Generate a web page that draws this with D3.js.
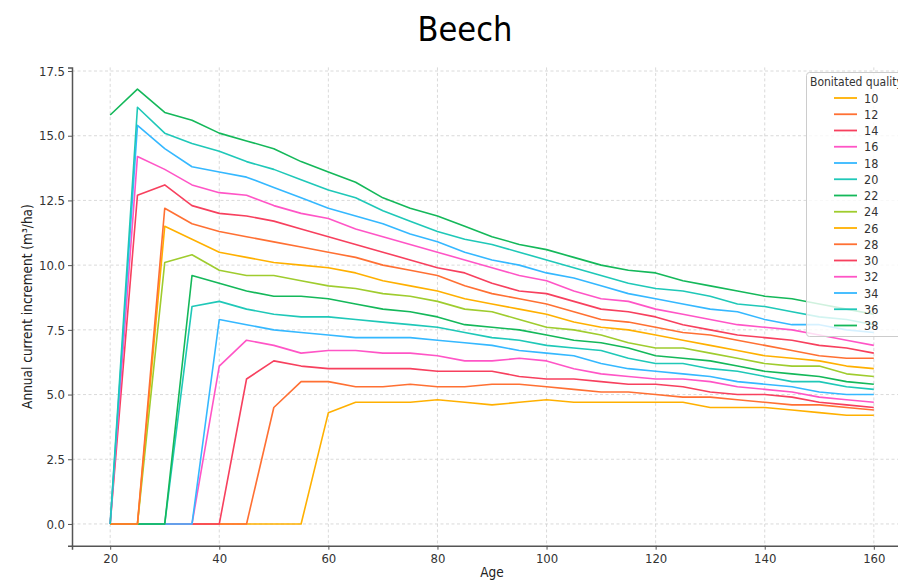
<!DOCTYPE html>
<html>
<head>
<meta charset="utf-8">
<script src="https://cdn.jsdelivr.net/npm/d3@7"></script>
<style>
  html, body { margin: 0; padding: 0; background: #fff; }
  svg text { font-family: 'DejaVu Sans Condensed', 'DejaVu Sans', sans-serif; font-stretch: condensed; }
</style>
</head>
<body>
<svg id="chart" width="898" height="580"></svg>
<script>
const ages = [20,25,30,35,40,45,50,55,60,65,70,75,80,85,90,95,100,105,110,115,120,125,130,135,140,145,150,155,160];
const qualities = [10,12,14,16,18,20,22,24,26,28,30,32,34,36,38];
const s10 = [0,0,0,0,0,0,0,0,4.3,4.7,4.7,4.7,4.8,4.7,4.6,4.7,4.8,4.7,4.7,4.7,4.7,4.7,4.5,4.5,4.5,4.4,4.3,4.2,4.2];
const s12 = [0,0,0,0,0,0,4.5,5.5,5.5,5.3,5.3,5.4,5.3,5.3,5.4,5.4,5.3,5.2,5.1,5.1,5.0,4.9,4.9,4.8,4.7,4.6,4.6,4.5,4.4];
const s14 = [0,0,0,0,0,5.6,6.3,6.1,6.0,6.0,6.0,6.0,5.9,5.9,5.9,5.7,5.6,5.6,5.5,5.4,5.4,5.3,5.1,5.0,5.0,4.9,4.7,4.6,4.5];
const s16 = [0,0,0,0,6.1,7.1,6.9,6.6,6.7,6.7,6.6,6.6,6.5,6.3,6.3,6.4,6.3,6.0,5.8,5.7,5.6,5.6,5.5,5.3,5.2,5.1,4.9,4.8,4.7];
const s18 = [0,0,0,0,7.9,7.7,7.5,7.4,7.3,7.2,7.2,7.2,7.1,7.0,6.9,6.7,6.6,6.5,6.2,6.0,5.9,5.8,5.7,5.5,5.4,5.3,5.1,5.0,5.0];
const s20 = [0,0,0,8.4,8.6,8.3,8.1,8.0,8.0,7.9,7.8,7.7,7.6,7.4,7.2,7.1,6.9,6.8,6.7,6.4,6.2,6.2,6.0,5.9,5.7,5.5,5.5,5.3,5.2];
const s22 = [0,0,0,9.6,9.3,9.0,8.8,8.8,8.7,8.5,8.3,8.2,8.0,7.7,7.6,7.5,7.3,7.1,7.0,6.8,6.5,6.4,6.3,6.1,5.9,5.8,5.7,5.5,5.4];
const s24 = [0,0,10.1,10.4,9.8,9.6,9.6,9.4,9.2,9.1,8.9,8.8,8.6,8.3,8.2,7.9,7.6,7.5,7.3,7.0,6.8,6.8,6.6,6.4,6.2,6.1,6.1,5.8,5.7];
const s26 = [0,0,11.5,11.0,10.5,10.3,10.1,10.0,9.9,9.7,9.4,9.2,9.0,8.7,8.5,8.3,8.1,7.8,7.6,7.5,7.3,7.1,6.9,6.7,6.5,6.4,6.3,6.1,6.0];
const s28 = [0,0,12.2,11.6,11.3,11.1,10.9,10.7,10.5,10.3,10.0,9.8,9.6,9.2,8.9,8.7,8.5,8.2,7.9,7.8,7.6,7.4,7.3,7.1,6.9,6.7,6.5,6.4,6.4];
const s30 = [0,12.7,13.1,12.3,12.0,11.9,11.7,11.4,11.1,10.8,10.5,10.2,9.9,9.7,9.3,9.0,8.9,8.6,8.3,8.2,8.0,7.7,7.5,7.3,7.2,7.1,6.9,6.8,6.6];
const s32 = [0,14.2,13.7,13.1,12.8,12.7,12.3,12.0,11.8,11.4,11.1,10.8,10.5,10.2,9.9,9.6,9.4,9.0,8.7,8.6,8.3,8.1,7.9,7.7,7.6,7.5,7.3,7.1,6.9];
const s34 = [0,15.4,14.5,13.8,13.6,13.4,13.0,12.6,12.2,11.9,11.6,11.2,10.9,10.5,10.2,10.0,9.7,9.5,9.2,8.9,8.7,8.5,8.3,8.2,7.9,7.7,7.7,7.5,7.4];
const s36 = [0,16.1,15.1,14.7,14.4,14.0,13.7,13.3,12.9,12.6,12.1,11.7,11.3,11.0,10.8,10.5,10.2,9.9,9.6,9.3,9.1,9.0,8.8,8.5,8.4,8.2,8.0,7.9,7.7];
const s38 = [15.8,16.8,15.9,15.6,15.1,14.8,14.5,14.0,13.6,13.2,12.6,12.2,11.9,11.5,11.1,10.8,10.6,10.3,10.0,9.8,9.7,9.4,9.2,9.0,8.8,8.7,8.5,8.3,8.1];
const seriesValues = [s10,s12,s14,s16,s18,s20,s22,s24,s26,s28,s30,s32,s34,s36,s38];
const palette = ["#ffb000","#ff7033","#f7405e","#ff55c6","#35b8ff","#1fc8b8","#14b85a","#9fcc2e"];
const xTicks = [20,40,60,80,100,120,140,160];
const yTicks = [0,2.5,5,7.5,10,12.5,15,17.5];

const svg = d3.select("#chart");
const L = 72, R = 912, T = 67.4, B = 545.7;
const x = d3.scaleLinear().domain([13, 167]).range([L, R]);
const y = d3.scaleLinear().domain([-0.84, 17.64]).range([B, T]);

// grid
const grid = svg.append("g");
grid.selectAll("line.gx").data(xTicks).join("line")
  .attr("x1", d => x(d)).attr("x2", d => x(d)).attr("y1", T).attr("y2", B)
  .attr("stroke", "#d0d0d0").attr("stroke-width", 0.8).attr("stroke-dasharray", "3,2.5");
grid.selectAll("line.gy").data(yTicks).join("line")
  .attr("x1", L).attr("x2", R).attr("y1", d => y(d)).attr("y2", d => y(d))
  .attr("stroke", "#d0d0d0").attr("stroke-width", 0.8).attr("stroke-dasharray", "3,2.5");

// lines
const line = d3.line().x((d, i) => x(ages[i])).y(d => y(d));
svg.append("g").selectAll("path").data(seriesValues).join("path")
  .attr("d", d => line(d))
  .attr("fill", "none")
  .attr("stroke", (d, i) => palette[i % 8])
  .attr("stroke-width", 1.6)
  .attr("stroke-linejoin", "round");

// axes
const xAxis = svg.append("g").attr("transform", `translate(0,${B})`)
  .call(d3.axisBottom(x).tickValues(xTicks).tickSize(4).tickPadding(4).tickFormat(d3.format("d")));
const yAxis = svg.append("g").attr("transform", `translate(${L},0)`)
  .call(d3.axisLeft(y).tickValues(yTicks).tickSize(4).tickPadding(3).tickFormat(d3.format(".1f")));
[xAxis, yAxis].forEach(a => {
  a.select(".domain").attr("stroke", "#555").attr("stroke-width", 1.5);
  a.selectAll(".tick line").attr("stroke", "#555").attr("stroke-width", 1);
  a.selectAll(".tick text").attr("fill", "#333").style("font-size", "13px");
});

// labels
svg.append("text").attr("x", 465).attr("y", 41).attr("text-anchor", "middle")
  .style("font-size", "34px").attr("fill", "#000").text("Beech");
svg.append("text").attr("x", 492).attr("y", 577).attr("text-anchor", "middle")
  .style("font-size", "13.5px").attr("fill", "#222").text("Age");
svg.append("text").attr("transform", `translate(32,${(T + B) / 2}) rotate(-90)`)
  .attr("text-anchor", "middle").style("font-size", "13.5px").attr("fill", "#222")
  .text("Annual current increment (m³/ha)");

// legend
const lg = svg.append("g");
lg.append("rect").attr("x", 806.5).attr("y", 72.5).attr("width", 140).attr("height", 264)
  .attr("rx", 3).attr("fill", "#fff").attr("fill-opacity", 0.8)
  .attr("stroke", "#cccccc").attr("stroke-width", 1);
lg.append("text").attr("x", 810).attr("y", 86).style("font-size", "12px").attr("fill", "#333")
  .text("Bonitated quality");
const items = lg.selectAll("g.item").data(qualities).join("g")
  .attr("transform", (d, i) => `translate(0,${98 + i * 16.25})`);
items.append("line").attr("x1", 834).attr("x2", 857).attr("y1", 0).attr("y2", 0)
  .attr("stroke", (d, i) => palette[i % 8]).attr("stroke-width", 1.8);
items.append("text").attr("x", 864).attr("y", 4.5).style("font-size", "12.5px").attr("fill", "#333")
  .text(d => d);
</script>
</body>
</html>
